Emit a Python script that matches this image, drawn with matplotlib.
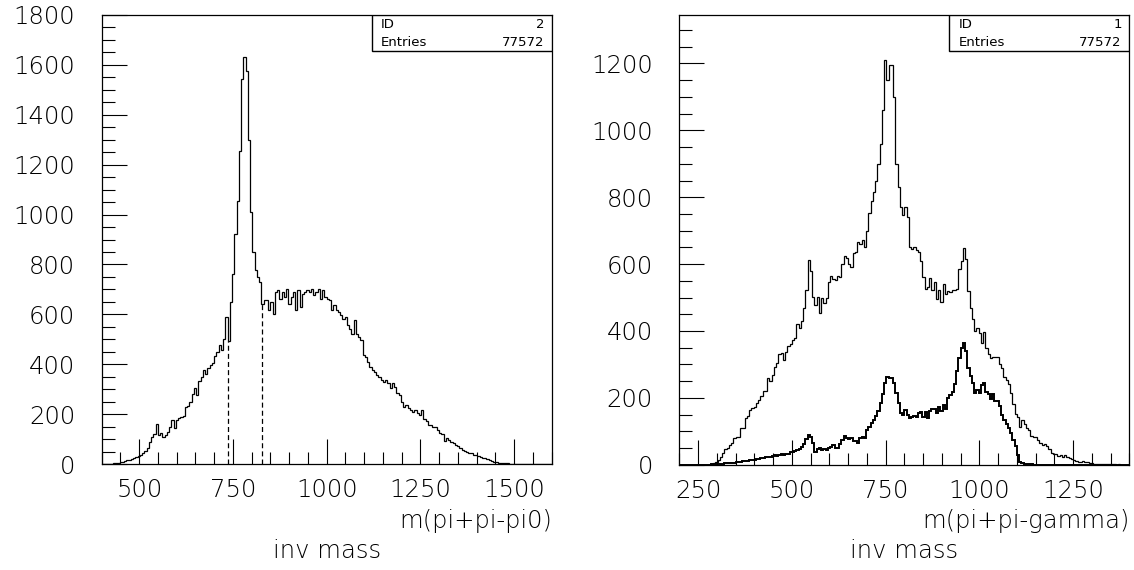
import numpy as np
import matplotlib
matplotlib.use("Agg")
import matplotlib.pyplot as plt
from matplotlib.patches import Rectangle
from matplotlib.ticker import MultipleLocator

# ID 2: m(pi+pi-pi0), 200 bins entre 400 y 1600
h2_lo, h2_hi = 400, 1600
h2_counts = [
    0, 0, 0, 0, 2, 3, 4, 5, 8, 10,
    12, 15, 17, 19, 24, 29, 32, 38, 45, 52,
    66, 90, 108, 122, 160, 118, 123, 110, 116, 128,
    150, 176, 143, 176, 185, 189, 192, 229, 232, 247,
    282, 303, 276, 333, 349, 376, 360, 383, 398, 405,
    432, 449, 476, 456, 503, 589, 495, 650, 763, 923,
    1056, 1256, 1545, 1630, 1577, 1300, 1009, 849, 776, 749,
    729, 643, 656, 656, 616, 649, 603, 689, 696, 663,
    689, 669, 703, 643, 669, 689, 616, 699, 629, 683,
    689, 696, 689, 703, 676, 689, 703, 663, 696, 669,
    663, 656, 616, 636, 616, 609, 596, 583, 589, 556,
    543, 523, 576, 523, 509, 496, 436, 429, 409, 389,
    376, 369, 356, 349, 336, 329, 336, 323, 303, 323,
    309, 283, 276, 249, 229, 236, 223, 216, 209, 216,
    203, 196, 216, 180, 172, 156, 158, 149, 150, 136,
    125, 121, 92, 105, 98, 89, 83, 76, 72, 66,
    58, 52, 48, 45, 43, 38, 35, 32, 28, 26,
    23, 20, 16, 13, 10, 8, 5, 4, 3, 4,
    3, 2, 1, 1, 0, 0, 0, 0, 0, 0,
    0, 0, 0, 0, 0, 0, 0, 0, 0, 0,
]
h2_cuts = [737, 827]

# ID 1: m(pi+pi-gamma), 200 bins entre 200 y 1400 (total y seleccion)
h1_lo, h1_hi = 200, 1400
h1_counts = [
    0, 0, 0, 0, 0, 0, 0, 0, 0, 0,
    0, 0, 0, 0, 1, 4, 8, 14, 22, 34,
    46, 50, 59, 66, 79, 84, 84, 109, 110, 139,
    146, 164, 169, 174, 186, 194, 204, 219, 221, 258,
    250, 268, 293, 305, 331, 333, 313, 338, 355, 361,
    373, 378, 420, 408, 430, 470, 522, 612, 580, 502,
    477, 502, 454, 500, 484, 500, 545, 565, 555, 553,
    563, 560, 600, 625, 617, 600, 592, 632, 637, 665,
    660, 672, 652, 700, 752, 790, 815, 850, 900, 960,
    1060, 1211, 1150, 1196, 1196, 1100, 900, 831, 772, 747,
    772, 742, 652, 645, 650, 642, 637, 610, 560, 525,
    530, 558, 522, 545, 495, 522, 487, 540, 512, 520,
    517, 522, 522, 525, 585, 610, 647, 615, 520, 470,
    435, 400, 410, 395, 365, 398, 350, 330, 318, 323,
    323, 323, 300, 290, 263, 253, 240, 213, 183, 153,
    143, 113, 133, 123, 110, 103, 85, 83, 83, 73,
    66, 58, 63, 55, 48, 35, 33, 33, 25, 28,
    23, 30, 23, 20, 17, 14, 11, 7, 8, 12,
    9, 8, 5, 4, 3, 2, 3, 2, 2, 3,
    2, 1, 1, 1, 0, 1, 0, 0, 0, 0,
]
h1_sel_counts = [
    0, 0, 0, 0, 0, 0, 0, 0, 0, 0,
    0, 0, 0, 0, 1, 1, 1, 2, 2, 3,
    4, 4, 5, 6, 6, 7, 8, 8, 10, 12,
    11, 13, 15, 14, 17, 18, 19, 21, 22, 24,
    22, 26, 29, 27, 29, 31, 30, 32, 33, 39,
    38, 41, 44, 47, 52, 62, 76, 88, 84, 66,
    38, 47, 50, 44, 46, 44, 49, 52, 59, 49,
    51, 62, 74, 85, 80, 76, 79, 72, 70, 64,
    80, 84, 80, 104, 114, 124, 134, 145, 160, 184,
    210, 244, 262, 260, 258, 245, 215, 184, 155, 150,
    164, 150, 140, 144, 147, 144, 154, 159, 144, 157,
    140, 160, 168, 166, 156, 172, 162, 178, 168, 200,
    208, 216, 240, 280, 320, 348, 364, 340, 290, 266,
    245, 215, 223, 213, 238, 245, 218, 210, 196, 210,
    190, 190, 175, 150, 135, 122, 110, 95, 75, 55,
    30, 8, 5, 3, 2, 2, 1, 0, 0, 0,
    0, 0, 0, 0, 0, 0, 0, 0, 0, 0,
    0, 0, 0, 0, 0, 0, 0, 0, 0, 0,
    0, 0, 0, 0, 0, 0, 0, 0, 0, 0,
    0, 0, 0, 0, 0, 0, 0, 0, 0, 0,
]

entries = 77572
fs = 17.5

plt.rcParams["font.family"] = ["DejaVu Sans"]
plt.rcParams["font.weight"] = "light"


def preparar_ejes(ax, xlim, ylim, xmajor, ymax_label):
    ax.set_xlim(*xlim)
    ax.set_ylim(*ylim)
    ax.xaxis.set_major_locator(MultipleLocator(xmajor))
    ax.xaxis.set_minor_locator(MultipleLocator(50))
    ax.set_yticks(np.arange(0, ymax_label + 1, 200))
    ax.yaxis.set_minor_locator(MultipleLocator(50))
    ax.tick_params(which="both", direction="in", top=False, right=False,
                   labelsize=fs, width=0.8)
    ax.tick_params(which="major", length=18)
    ax.tick_params(which="minor", length=9)
    ax.tick_params(axis="y", pad=19)
    ax.tick_params(axis="x", pad=10)
    for s in ax.spines.values():
        s.set_linewidth(0.9)


def caja_stats(ax, hid):
    ax.add_patch(Rectangle((0.6, 0.92), 0.4, 0.08, transform=ax.transAxes,
                           fc="white", ec="black", lw=1.0, zorder=5))
    filas = [("ID", str(hid), 0.979), ("Entries", str(entries), 0.939)]
    for nombre, valor, y in filas:
        ax.text(0.62, y, nombre, transform=ax.transAxes, fontsize=9.5,
                fontweight="normal", va="center", ha="left", zorder=6)
        ax.text(0.983, y, valor, transform=ax.transAxes, fontsize=9.5,
                fontweight="normal", va="center", ha="right", zorder=6)


fig = plt.figure(figsize=(11.34, 5.70), dpi=100)

# panel izquierdo
ax1 = fig.add_axes([101.7 / 1134, 106 / 570, 450 / 1134, 449 / 570])
edges2 = np.linspace(h2_lo, h2_hi, len(h2_counts) + 1)
ax1.stairs(h2_counts, edges2, color="black", lw=0.9)
for c in h2_cuts:
    i = np.searchsorted(edges2, c) - 1
    ax1.vlines(c, 0, h2_counts[i], colors="black", lw=0.9,
               linestyles=(0, (4, 2.5)))
preparar_ejes(ax1, (400, 1600), (0, 1800), 250, 1800)
caja_stats(ax1, 2)

# panel derecho
ax2 = fig.add_axes([679.3 / 1134, 105.3 / 570, 450 / 1134, 449.7 / 570])
edges1 = np.linspace(h1_lo, h1_hi, len(h1_counts) + 1)
ax2.stairs(h1_counts, edges1, color="black", lw=0.9)
ax2.stairs(h1_sel_counts, edges1, color="black", lw=1.4)
preparar_ejes(ax2, (200, 1400), (0, 1345), 250, 1200)
caja_stats(ax2, 1)

# titulos del eje x
fig.text(551.7 / 1134, 1 - 521 / 570, "m(pi+pi-pi0)", fontsize=fs,
         ha="right", va="center")
fig.text(326.7 / 1134, 1 - 551 / 570, "inv mass", fontsize=fs,
         ha="center", va="center")
fig.text(1129.3 / 1134, 1 - 521 / 570, "m(pi+pi-gamma)", fontsize=fs,
         ha="right", va="center")
fig.text(904.3 / 1134, 1 - 551 / 570, "inv mass", fontsize=fs,
         ha="center", va="center")

fig.savefig("out.png", dpi=100, facecolor="white")
